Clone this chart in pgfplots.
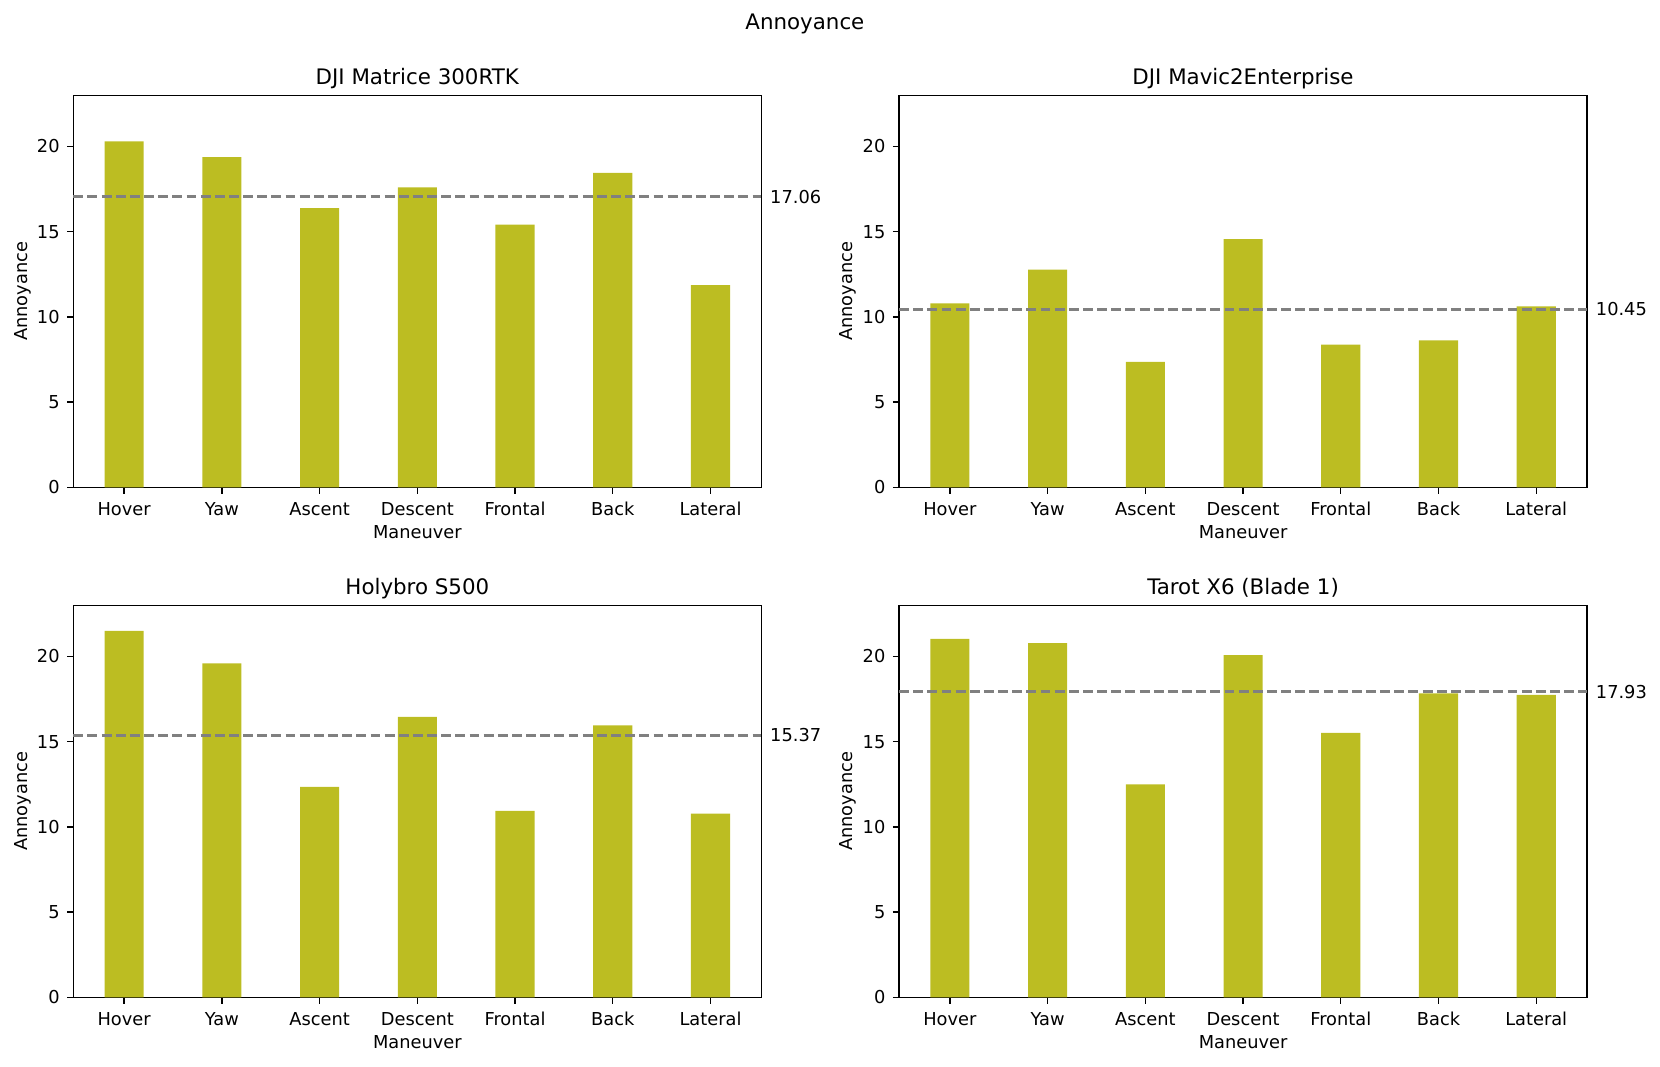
\documentclass[border=0pt]{standalone}
\usepackage{fontspec}
\setmainfont{DejaVu Sans}
\usepackage{pgfplots}
\pgfplotsset{compat=1.18}
\definecolor{barolive}{HTML}{BCBD22}
\definecolor{meangray}{HTML}{808080}

\pgfplotsset{
  drone/.style={
    scale only axis, width=386.5pt, height=220.2pt,
    anchor=south west, clip=false,
    xmin=-0.52, xmax=6.52, ymin=0, ymax=23,
    xtick={0,...,6},
    xticklabels={Hover,Yaw,Ascent,Descent,Frontal,Back,Lateral},
    ytick={0,5,10,15,20},
    tick align=outside, tick pos=left,
    major tick length=3.5pt,
    every tick/.style={black, line width=0.8pt},
    axis line style={line width=0.8pt},
    /pgf/number format/assume math mode=true,
    tick label style={font=\fontsize{10}{12}\selectfont, inner sep=0pt},
    xticklabel style={anchor=north, yshift=-4.6pt},
    yticklabel style={anchor=east, xshift=-4pt},
    every axis title/.style={at={(axis description cs:0.5,1)}, anchor=base,
      yshift=6pt, inner sep=0pt, font=\fontsize{12}{14}\selectfont},
    xlabel=Maneuver, ylabel=Annoyance,
    every axis x label/.style={at={([yshift=-25.3pt]axis description cs:0.5,0)},
      anchor=center, font=\fontsize{10}{12}\selectfont},
    every axis y label/.style={at={([xshift=-28.6pt]axis description cs:0,0.5)},
      rotate=90, anchor=center, font=\fontsize{10}{12}\selectfont},
  },
}
\tikzset{
  meanline/.style={meangray, line width=1.5pt, dash pattern=on 5.55pt off 2.4pt},
  bars/.style={ybar, bar width=0.4, fill=barolive, draw=none},
  meanlabel/.style={anchor=west, inner sep=0pt, xshift=4.8pt, font=\fontsize{10}{12}\selectfont},
}

\begin{document}
\begin{tikzpicture}
\path (0,0) rectangle (932.6pt,598.9pt);
\node[font=\fontsize{12}{14}\selectfont] at (452.2pt,585.6pt) {Annoyance};

% top left
\begin{axis}[drone, at={(41.2pt,325.1pt)}, title={DJI Matrice 300RTK}]
\addplot[bars] coordinates {(0,20.30) (1,19.38) (2,16.39) (3,17.60) (4,15.42) (5,18.46) (6,11.87)};
\addplot[meanline] coordinates {(-0.52,17.06) (6.52,17.06)};
\node[meanlabel] at (axis cs:6.52,17.06) {17.06};
\end{axis}

% top right
\begin{axis}[drone, at={(505.1pt,325.1pt)}, title={DJI Mavic2Enterprise}]
\addplot[bars] coordinates {(0,10.80) (1,12.78) (2,7.36) (3,14.56) (4,8.38) (5,8.62) (6,10.62)};
\addplot[meanline] coordinates {(-0.52,10.45) (6.52,10.45)};
\node[meanlabel] at (axis cs:6.52,10.45) {10.45};
\end{axis}

% bottom left
\begin{axis}[drone, at={(41.2pt,38.6pt)}, title={Holybro S500}]
\addplot[bars] coordinates {(0,21.51) (1,19.59) (2,12.35) (3,16.46) (4,10.94) (5,15.95) (6,10.78)};
\addplot[meanline] coordinates {(-0.52,15.37) (6.52,15.37)};
\node[meanlabel] at (axis cs:6.52,15.37) {15.37};
\end{axis}

% bottom right
\begin{axis}[drone, at={(505.1pt,38.6pt)}, title={Tarot X6 (Blade 1)}]
\addplot[bars] coordinates {(0,21.04) (1,20.78) (2,12.49) (3,20.08) (4,15.52) (5,17.84) (6,17.74)};
\addplot[meanline] coordinates {(-0.52,17.93) (6.52,17.93)};
\node[meanlabel] at (axis cs:6.52,17.93) {17.93};
\end{axis}
\end{tikzpicture}
\end{document}
